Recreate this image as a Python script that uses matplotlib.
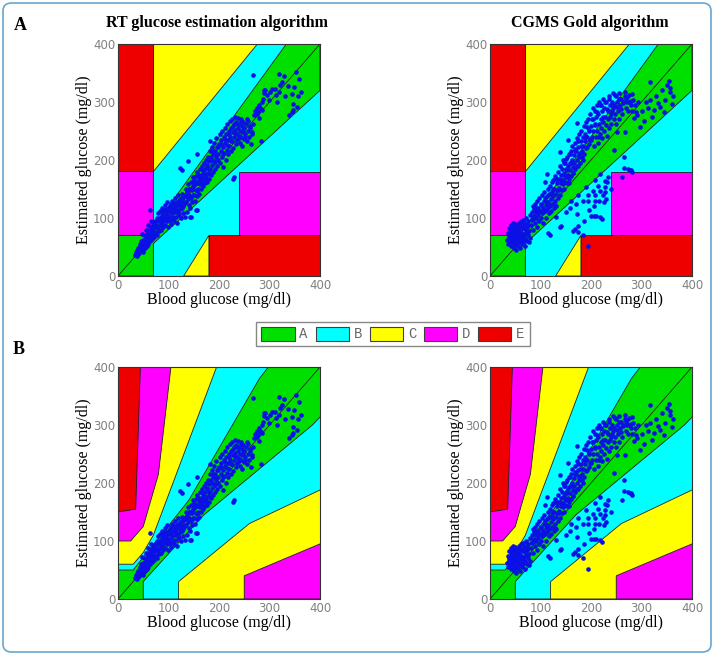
import matplotlib.pyplot as plt
from matplotlib.patches import Patch, FancyBboxPatch

# zone names and colours
zone_names = ["A", "B", "C", "D", "E"]
zone_colors = {"A": "#00e000", "B": "#00ffff", "C": "#ffff00", "D": "#ff00ff", "E": "#ee0000"}

# Clarke error grid zones: (zone, x corners, y corners)
clarke_zones = [
    ("C", [70, 276, 70], [180, 400, 400]),
    ("E", [0, 70, 70, 0], [180, 180, 400, 400]),
    ("D", [0, 58.3, 70, 70, 0], [70, 70, 84, 180, 180]),
    ("A", [0, 70, 70, 400, 400, 333.3, 58.3, 0], [0, 0, 56, 320, 400, 400, 70, 70]),
    ("C", [130, 180, 180], [0, 70, 0]),
    ("E", [180, 400, 400, 180], [0, 0, 70, 70]),
    ("D", [240, 400, 400, 240], [70, 70, 180, 180]),
]

# Parkes consensus error grid (type 1), drawn in order over an A background
parkes_zones = [
    ("B", [0, 30, 140, 280, 430, 0], [50, 50, 170, 380, 550, 550]),
    ("C", [0, 30, 50, 70, 260, 0], [60, 60, 80, 110, 550, 550]),
    ("D", [0, 25, 50, 80, 125, 0], [100, 100, 125, 215, 550, 550]),
    ("E", [0, 35, 50, 0], [150, 155, 550, 550]),
    ("B", [50, 50, 170, 385, 550, 550], [0, 30, 145, 300, 450, 0]),
    ("C", [120, 120, 260, 550, 550], [0, 30, 130, 250, 0]),
    ("D", [250, 250, 550, 550], [0, 40, 150, 0]),
]

# RT glucose estimation algorithm: blood glucose vs estimate (mg/dl)
rt_ref = [33, 36, 38, 40, 42, 44, 45, 47, 48, 50, 50, 52, 53, 55, 55, 57, 58, 58, 60, 60,
          62, 62, 63, 64, 65, 66, 67, 68, 69, 70, 48, 45, 56, 60, 40, 52, 66,
          72, 72, 74, 75, 76, 78, 78, 80, 80, 82, 82, 84, 85, 86, 87, 88, 89, 90, 90, 92,
          93, 94, 95, 96, 97, 98, 99, 100, 100, 102, 103, 104, 105, 106, 107, 108, 109, 110,
          110, 112, 113, 114, 115, 116, 117, 118, 119, 120, 120, 122, 123, 124, 125, 126,
          127, 128, 129, 130, 133,
          132, 134, 135, 136, 137, 138, 139, 140, 141, 142, 143, 144, 145, 146, 147, 148,
          149, 150, 150, 152, 153, 154, 155, 156, 157, 158, 159, 160, 161, 162, 163, 164,
          165, 166, 167, 168, 169, 170, 170, 172, 173, 174, 175, 176, 177, 178, 179, 180,
          181, 182, 183, 184, 185, 186, 187, 188, 189, 190, 191, 192, 193, 194, 195, 196,
          197, 198, 199, 200,
          201, 202, 203, 204, 205, 206, 207, 208, 209, 210, 211, 212, 213, 214, 215, 216,
          217, 218, 219, 220, 221, 222, 223, 224, 225, 226, 227, 228, 229, 230, 231, 232,
          233, 234, 235, 236, 237, 238, 239, 240, 241, 242, 243, 244, 245, 246, 247, 248,
          249, 250, 252, 254, 255, 256, 258, 260, 262, 264, 265, 267,
          268, 272, 275, 278, 280, 283, 285, 288, 289, 292, 276, 286, 295, 299, 300, 305,
          310, 312, 315, 319, 319, 325, 328, 330, 336, 339, 344, 345, 347, 347, 349, 352,
          355, 356, 358, 362, 320, 290,
          126, 123, 138, 157, 183, 229, 227, 156, 142, 284, 145, 154,
          37, 43, 49, 54, 59, 61, 64, 68, 71, 73, 77, 79, 81, 83, 86, 88, 91, 93, 96, 98,
          101, 103, 105, 108, 111, 113, 116, 118, 121, 124, 126, 128, 131, 134, 137, 140,
          143, 146, 149, 151, 154, 157, 160, 163, 166, 169, 171, 174, 177, 180, 183, 186,
          189, 192, 195, 198, 203, 207, 211, 215, 219, 223, 227, 231, 235, 239, 243, 247,
          251, 257, 261, 266, 270, 274, 279, 282]
rt_est = [36, 42, 35, 48, 40, 52, 45, 58, 50, 42, 62, 55, 48, 66, 58, 52, 70, 62, 74, 56,
          66, 80, 60, 114, 72, 85, 64, 78, 70, 90, 72, 60, 80, 88, 38, 70, 95,
          68, 82, 95, 75, 88, 100, 70, 85, 108, 78, 96, 112, 90, 80, 102, 118, 94, 85, 110, 100,
          122, 88, 106, 115, 95, 128, 84, 104, 118, 96, 112, 125, 90, 108, 130, 100, 118, 95,
          126, 110, 135, 102, 120, 92, 128, 110, 140, 105, 122, 115, 132, 100, 126, 142,
          118, 108, 136, 124, 101,
          140, 150, 128, 110, 145, 132, 158, 122, 140, 150, 118, 162, 135, 148, 128, 170,
          155, 140, 165, 130, 158, 172, 148, 138, 180, 160, 150, 168, 142, 185, 158, 172,
          150, 190, 165, 178, 155, 195, 170, 160, 185, 200, 172, 162, 190, 205, 178, 168,
          198, 215, 185, 175, 205, 192, 222, 180, 210, 198, 230, 185, 215, 205, 238, 190,
          222, 210, 200, 228,
          245, 195, 215, 235, 205, 250, 222, 188, 240, 212, 255, 230, 200, 245, 218, 262,
          235, 210, 250, 225, 268, 240, 215, 255, 232, 270, 248, 220, 262, 240, 275, 252,
          228, 265, 245, 235, 272, 255, 242, 262, 230, 250, 268, 240, 258, 225, 248, 265,
          236, 255, 245, 262, 232, 270, 250, 240, 258, 228, 248, 262,
          346, 285, 290, 282, 295, 288, 300, 305, 320, 320, 280, 286, 312, 303, 318, 322,
          323, 312, 300, 348, 317, 335, 345, 310, 327, 277, 313, 282, 297, 286, 326, 352,
          292, 310, 340, 317, 330, 315,
          182, 186, 198, 210, 233, 171, 167, 113, 101, 233, 101, 114,
          45, 55, 44, 60, 65, 72, 68, 84, 76, 88, 82, 94, 100, 88, 96, 106, 98, 114, 100, 110,
          96, 120, 116, 102, 118, 124, 114, 108, 130, 118, 134, 120, 128, 142, 138, 150,
          136, 152, 140, 158, 162, 146, 175, 168, 160, 182, 178, 168, 192, 185, 176, 200,
          215, 196, 208, 222, 228, 210, 236, 226, 244, 232, 258, 246, 262, 238, 270, 252,
          240, 268, 255, 245, 278, 285, 272, 290]

# CGMS Gold algorithm: blood glucose vs estimate (mg/dl)
cgms_ref = [33, 35, 36, 38, 38, 40, 40, 42, 42, 44, 44, 45, 46, 46, 47, 48, 48, 49, 50, 50,
            51, 52, 52, 53, 54, 55, 55, 56, 57, 58, 58, 59, 60, 60, 61, 62, 62, 63, 64, 65,
            66, 67, 68, 69, 70, 71, 72, 73, 74, 75, 76, 77, 78, 79, 80,
            82, 83, 84, 85, 86, 87, 88, 89, 90, 91, 92, 93, 94, 95, 96, 97, 98, 99, 100, 101,
            102, 103, 104, 105, 106, 107, 108, 109, 110, 111, 112, 112, 113, 114, 115, 115,
            116, 117, 118, 118, 119, 120, 121, 122, 122, 123, 124, 125, 126, 127, 128, 129,
            130, 131, 131, 132, 133, 134, 135, 136, 137, 138, 138, 139, 139, 140, 141, 141,
            142, 143, 144, 145, 146, 146, 147, 148, 149, 150, 151, 151, 152, 153, 154, 155,
            155, 156, 157, 158, 158, 159, 160, 161, 162, 163, 164, 165, 165, 166, 167, 168,
            168, 169, 170, 171, 172, 172, 172, 173, 174, 174, 174, 175, 175, 176, 177, 178,
            179, 180, 181, 182, 183, 184, 184, 185, 185, 186, 187, 188, 189, 190, 191, 191,
            192, 193, 194, 194, 194, 195, 196, 197, 197, 198, 199, 200, 200,
            201, 202, 203, 204, 204, 205, 206, 207, 207, 208, 208, 208, 209, 210, 210, 211,
            212, 213, 214, 214, 215, 215, 216, 217, 217, 217, 218, 218, 219, 220, 221, 221,
            222, 223, 223, 224, 225, 225, 226, 227, 227, 228, 228, 229, 230, 230, 231, 232,
            233, 233, 234, 235, 236, 237, 238, 240, 241, 242, 243, 245, 245, 246, 248, 249,
            250, 251, 252, 254, 255, 256, 258, 260, 261, 262, 264, 266, 266, 267, 268, 269,
            270, 271, 273, 274, 276, 278, 279, 280, 281, 281, 282, 284, 286, 288, 290,
            291, 294, 297, 300, 304, 308, 312, 317, 317, 320, 324, 328, 332, 337, 340, 345,
            347, 350, 354, 356, 357, 360, 362, 128, 150, 159, 168,
            37, 39, 41, 43, 45, 47, 49, 51, 53, 55, 57, 59, 61, 63, 65, 67, 69, 71, 73, 75,
            84, 88, 92, 96, 100, 104, 108, 112, 116, 120, 124, 128, 132, 136, 140, 144, 148,
            152, 156, 160, 164, 168, 172, 176, 180, 184, 188, 192, 196, 200, 204, 208, 212,
            216, 220, 224, 228, 232, 236, 240, 244, 248, 252, 256, 260, 264, 268, 272, 276,
            280, 160, 186, 205, 240, 175]
cgms_est = [62, 75, 55, 68, 82, 60, 72, 88, 52, 65, 78, 58, 70, 84, 48, 62, 76, 90, 55, 68,
            80, 45, 72, 62, 86, 52, 75, 66, 92, 58, 80, 70, 48, 85, 62, 75, 95, 55, 68, 82,
            60, 72, 90, 52, 66, 78, 100, 60, 85, 70, 95, 58, 78, 105, 65,
            88, 110, 98, 120, 80, 104, 115, 92, 125, 100, 110, 85, 130, 105, 118, 95, 135, 112,
            100, 125, 140, 108, 118, 92, 130, 145, 112, 162, 122, 100, 176, 138, 115, 150,
            75, 128, 108, 142, 70, 120, 155, 132, 112, 162, 145, 125, 138, 165, 118, 150, 130,
            172, 142, 101, 120, 160, 148, 180, 135, 168, 152, 84, 190, 214, 140, 175, 87, 160,
            148, 185, 165, 200, 194, 150, 178, 162, 195, 170, 110, 185, 205, 160, 190, 234,
            175, 210, 168, 118, 195, 182, 215, 172, 200, 225, 188, 77, 178, 208, 195, 81,
            230, 185, 215, 124, 107, 263, 200, 238, 87, 190, 233, 76, 222, 205, 245, 212,
            195, 232, 250, 215, 205, 130, 240, 70, 225, 258, 210, 245, 232, 265, 153, 220,
            257, 240, 51, 139, 130, 270, 228, 113, 250, 235, 280, 103, 258,
            240, 270, 290, 147, 250, 103, 225, 130, 285, 165, 140, 260, 240, 104, 275, 295,
            250, 230, 156, 280, 130, 262, 300, 101, 147, 245, 176, 294, 270, 255, 99, 285,
            238, 139, 305, 265, 128, 250, 290, 153, 164, 145, 275, 260, 133, 300, 162, 242,
            170, 285, 270, 310, 255, 295, 275, 262, 300, 285, 315, 217, 270, 295, 280, 310,
            262, 248, 300, 285, 315, 270, 295, 305, 171, 280, 300, 205, 187, 318, 248, 290,
            305, 309, 185, 285, 300, 182, 182, 295, 179, 314, 285, 303, 272, 295, 282,
            277, 300, 257, 285, 268, 300, 290, 334, 303, 275, 286, 310, 298, 291, 320, 282,
            303, 330, 337, 318, 325, 297, 310, 167, 202, 210, 219,
            70, 58, 80, 66, 92, 54, 85, 64, 78, 60, 70, 88, 74, 58, 96, 82, 64, 90, 75, 88,
            96, 100, 118, 112, 122, 110, 135, 128, 120, 142, 150, 122, 168, 148, 165, 158,
            172, 182, 160, 195, 178, 215, 190, 210, 225, 200, 240, 222, 252, 235, 270, 262,
            282, 240, 295, 275, 300, 288, 305, 280, 290, 312, 292, 305, 288, 298, 310, 300,
            312, 302, 130, 95, 120, 150, 140]

panel_titles = ["RT glucose estimation algorithm", "CGMS Gold algorithm"]

W, H = 714, 655
fig = plt.figure(figsize=(W / 100, H / 100), dpi=100)

serif = "Liberation Serif"


def make_axes(left_px, top_px, w_px, h_px):
    return fig.add_axes([left_px / W, 1 - (top_px + h_px) / H, w_px / W, h_px / H])


def style_axes(ax):
    ax.set_xlim(0, 400)
    ax.set_ylim(0, 400)
    ax.set_xticks([0, 100, 200, 300, 400])
    ax.set_yticks([0, 100, 200, 300, 400])
    ax.tick_params(length=0, pad=2, labelsize=8.5, labelcolor="#808080")
    for s in ax.spines.values():
        s.set_linewidth(0.8)
        s.set_color("#333333")
    ax.set_xlabel("Blood glucose (mg/dl)", family=serif, fontsize=11.5, labelpad=0)
    ax.set_ylabel("Estimated glucose (mg/dl)", family=serif, fontsize=11.5, labelpad=1)


def draw_clarke(ax):
    ax.fill([0, 400, 400, 0], [0, 0, 400, 400], color=zone_colors["B"], zorder=0)
    for z, xs, ys in clarke_zones:
        ax.fill(xs, ys, facecolor=zone_colors[z], edgecolor="#202020", lw=0.6, zorder=1)


def draw_parkes(ax):
    ax.fill([0, 400, 400, 0], [0, 0, 400, 400], color=zone_colors["A"], zorder=0)
    for z, xs, ys in parkes_zones:
        ax.fill(xs, ys, facecolor=zone_colors[z], edgecolor="#202020", lw=0.6, zorder=1)


datasets = [(rt_ref, rt_est), (cgms_ref, cgms_est)]
lefts = [118, 490]
tops = [44, 367]

for row, draw in enumerate([draw_clarke, draw_parkes]):
    for col in range(2):
        ax = make_axes(lefts[col], tops[row], 202, 232)
        draw(ax)
        ax.plot([0, 400], [0, 400], color="#202020", lw=0.6, zorder=2)
        xs, ys = datasets[col]
        ax.scatter(xs, ys, s=11, marker="o", color="#0a10e6", linewidths=0, zorder=3)
        style_axes(ax)

fig.text(217 / W, 1 - 23 / H, panel_titles[0], family=serif, weight="bold",
         fontsize=11.5, ha="center", va="center")
fig.text(590 / W, 1 - 23 / H, panel_titles[1], family=serif, weight="bold",
         fontsize=11.5, ha="center", va="center")
fig.text(20 / W, 1 - 25 / H, "A", family=serif, weight="bold", fontsize=13,
         ha="center", va="center")
fig.text(19 / W, 1 - 349 / H, "B", family=serif, weight="bold", fontsize=13,
         ha="center", va="center")

handles = [Patch(facecolor=zone_colors[z], edgecolor="#404040", lw=0.8) for z in zone_names]
fig.legend(handles, zone_names, loc="center", bbox_to_anchor=(393 / W, 1 - 334 / H),
           ncol=5, fancybox=False, edgecolor="#888888", framealpha=1,
           handlelength=2.4, handleheight=1.2, handletextpad=0.35, columnspacing=0.55,
           borderpad=0.35, prop={"family": "Liberation Mono", "size": 10},
           labelcolor="#666666")

fig.patches.append(FancyBboxPatch((3 / W, 3 / H), 1 - 6 / W, 1 - 6 / H,
                                  boxstyle="round,pad=0,rounding_size=0.012",
                                  transform=fig.transFigure, fill=False,
                                  edgecolor="#6aa6cf", lw=1.2))

fig.savefig("out.png", dpi=100)
